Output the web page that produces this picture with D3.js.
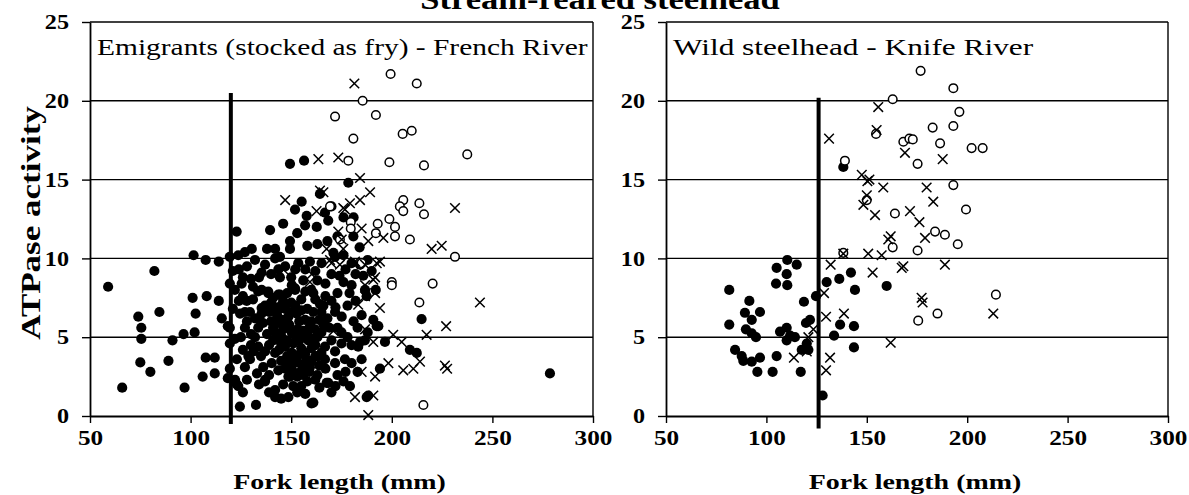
<!DOCTYPE html>
<html>
<head>
<meta charset="utf-8">
<script src="https://cdn.jsdelivr.net/npm/d3@7"></script>
<style>
  html, body { margin: 0; padding: 0; background: #fff; }
  svg { display: block; }
</style>
</head>
<body>
<svg id="chart" width="1189" height="495"></svg>
<script>
// ---------------- DATA ----------------
const chartTitle = "Stream-reared steelhead";
const panelTitles = ["Emigrants (stocked as fry) - French River", "Wild steelhead - Knife River"];
const xLabel = "Fork length (mm)";
const yLabel = "ATPase activity";
const xTicks = [50, 100, 150, 200, 250, 300];
const yTicks = [0, 5, 10, 15, 20, 25];
const cutoffs = [120, 126];           // vertical reference line (mm) per panel
const cutoffSpan = [[-0.5, 20.5], [-0.8, 20.2]];

// Left panel: French River
const leftFilled = [
 [59,8.2],[66,1.8],[74,6.3],[75.5,5.6],[75.5,4.9],[75,3.4],[80,2.8],[82,9.2],[84.5,6.6],[89,3.5],[91,4.8],[96.5,5.2],[97,1.8],
 [101,7.5],[102.5,6.5],[102,5.3],[101.5,10.2],[106,2.5],[107.5,9.9],[108,7.6],[107.5,3.7],[112,3.7],[112,2.7],[114,9.8],[114,7.3],
 [115.5,6.2],[118.5,2.4],[119.5,5.6],[119.5,3.0],[119.5,4.6],[119.5,8.4],[119.5,10.1],[118.5,5.7],
 [122,4.9],[123,2.0],[124.5,0.6],[132.5,0.7],[161,0.85],[125.4,8.4],[122,8.0],[127.9,7.3],[129.5,6.6],[133.6,7.9],[138.6,7.9],
 [135.3,6.85],[133.6,5.6],[129.5,3.6],[137,2.2],[149.4,2.5],[167.6,2.1],[144.4,10.1],[135.3,9.1],[144.4,8.8],[151.9,8.1],[144.4,7.7],
 [149.4,16.0],[156.4,16.2],[178.4,14.8],[164.3,14.1],[155.2,13.6],[151.9,13.1],[157.7,12.7],[156.9,12.1],[162.7,12.0],[166.8,12.9],
 [168.4,12.4],[139.5,11.8],[122.9,11.7],[149.4,11.1],[149.4,10.6],[142,10.6],[130.4,10.6],[123.7,10.2],[127,10.4],[180.9,11.4],
 [142,10.0],[137,9.6],[143.6,9.3],[153.5,9.7],[159.3,9.8],[165.1,9.7],[171.8,10.1],[180,9.7],[184.2,9.6],
 [135.3,8.0],[138.6,7.8],[143.6,7.7],[150.3,8.3],[151.9,8.0],[164.3,7.1],[171.8,6.6],[175.1,6.3],[127,6.6],[124.6,6.5],[135.3,6.5],
 [137,7.0],[143.6,5.9],[142,5.3],[145.3,5.0],[148.6,6.3],[152.7,6.5],[156.9,6.1],[150.3,5.3],[155.2,5.0],[158.5,4.8],[146.9,4.4],
 [150.3,4.0],[151.9,3.6],[142,4.0],[140.3,3.35],[143.6,2.9],[133.6,4.4],[131.2,4.1],[128.7,3.8],[127,3.1],[136.1,3.1],[137,2.3],
 [122.1,2.3],[123.7,1.9],[142,1.65],[142,1.2],[148.6,2.5],[151,1.9],[148.6,1.2],[155.2,2.9],[159.3,3.1],[160.1,0.8],[157.7,3.6],
 [163.4,3.8],[166.8,4.4],[170,4.8],[171.8,4.1],[161.8,5.5],[166.8,3.6],[171.8,3.35],[176.7,3.6],[180,3.35],[168.4,2.1],[179.2,1.9],
 [188.3,1.3],[183.3,4.4],[186.6,4.8],
 [185.8,8.9],[186.7,8.0],[187.5,7.6],[190.8,6.1],[193.3,5.7],[214.8,6.15],[196.6,4.7],[184.2,4.7],[209,4.2],[212.4,4.0],[194.1,3.0],
 [187.5,1.2],[278.6,2.7],[192.5,5.7],[171,10.35],[176,10.2],
 [140,6.0],[146,5.5],[148,4.8],[153,5.5],[155,4.3],[160,6.0],[162,4.5],[145,3.5],[147,3.0],[153,2.5],[158,2.2],[163,2.6],[165,5.3],
 [168,6.2],[170,7.3],[173,7.8],[176,8.5],[178,7.0],[181,6.0],[178,5.0],[175,4.6],[173,5.6],[130,8.7],[128,9.5],[132,9.9],[140,9.0],
 [147,9.5],[150,8.8],[156,8.6],[160,8.0],[163,8.6],[167,8.4],[170,9.0],[125,5.0],[126,4.2],[130,5.2],[138,5.2],[139,4.5],[135,3.8],
 [133,2.7],[144,6.8],[150,7.2],[155,7.4],[158,6.8],[162,7.4],[165,6.6],[140,7.2],[131,7.4],[128,2.3],[126,1.5],[153,1.5],[146,2.0],
 [157,1.4],[164,1.8],[173,2.6],[177,2.8],[183,2.8],[185,3.6],[170,1.5],[175,5.3],[180,8.3],[182,7.3],[188,5.3],[185,6.4],[146,12.2],
 [153,11.6],[158,10.8],[163,10.9],[168,11.1],[173,11.4],[176,12.6],[170,13.3],[181,12.6],[184,10.7],[188,9.9],[190,9.2],[192,8.0],
 [139,2.6],[141,7.5],[143,6.4],[145,4.6],[147,6.8],[149,5.8],[151,4.6],[152,7.0],[154,6.0],[156,5.4],[157,4.0],[159,5.6],[160,3.5],
 [161,6.6],[163,5.0],[164,3.2],[166,5.8],[167,7.6],[148,3.8],[150,3.1],[153,3.4],[156,2.6],[144,5.2],[146,7.3],[141,4.8],[136,5.9],
 [132,6.2],[131,8.2],[126,7.6],[124,9.3],[123,3.6],[127,5.6],[134,2.0],[139,1.5],[145,1.1],[155,1.9],[162,2.3],[167,3.0],[169,5.6],
 [172,6.9],[174,8.9],[177,9.3],[179,7.8],[182,9.0],[183,5.6],[180,4.5],[176,2.2],[172,1.9],
 [142,6.9],[144,4.2],[146,6.1],[148,7.8],[150,6.6],[152,5.1],[154,4.8],[155,6.7],[157,7.9],[158,5.2],[160,4.3],[161,7.8],[162,3.8],
 [164,6.1],[165,4.0],[166,7.0],[147,5.9],[149,3.3],[151,2.8],[154,3.9],[156,3.3],[159,2.8],[161,4.9],[145,7.0],[141,5.6],[139,6.6],
 [137,4.1],[134,6.2],[132,5.0],[130,4.5],[128,6.0],[126,8.8],[124,7.3],[121,6.8],[121,9.2],[134,8.8],[138,10.6],[152,9.3],[157,9.3],
 [162,9.2]
];
const leftCross = [
 [181.4,21.1],[163.5,16.3],[173.4,16.4],[184.2,15.1],[189.2,14.2],[164.3,14.3],[166,14.2],[147,13.7],[162.6,13.0],[175.9,13.2],
 [179.2,13.5],[184.2,13.7],[231.4,13.2],[176.7,13.1],[173.4,11.7],[185,11.9],[188.3,11.1],[195.8,11.3],[167.6,10.6],[175.1,11.2],
 [175.9,10.6],[219.8,10.6],[224.8,10.8],[194.1,9.8],[146.1,9.3],[160.2,9.0],[170,9.7],[181.7,9.8],[186.7,9.6],[190.8,8.65],
 [191.7,7.8],[186.7,7.6],[194.1,6.85],[186.7,5.5],[190.8,4.7],[243.8,7.2],[227,5.7],[217.3,5.15],[200.7,5.15],[204.9,4.7],
 [185,2.8],[191.7,2.5],[198.3,3.35],[205.7,2.9],[210.7,3.0],[214,3.45],[226.4,3.2],[227.5,3.0],[190.8,1.3],[181.7,1.2],[188.3,0.06],
 [158.5,7.8],[159.3,8.5],[183.3,7.06],[174.2,9.6],[192.5,9.7],[191.7,8.8],[186.7,8.3],[171,5.4],[162.3,3.35],[169.3,9.9]
];
const leftOpen = [
 [199.4,21.7],[212.4,21.1],[185.5,20.0],[171.8,19.0],[192.1,19.1],[180.9,17.6],[205.4,17.9],[209.9,18.1],[178.4,16.2],[198.8,16.1],
 [216,15.9],[237.5,16.6],[205.7,13.7],[204,13.3],[205.7,13.0],[213.7,13.5],[216,12.8],[169.3,13.3],[198.8,12.5],[193,12.2],
 [201.6,12.0],[179.6,12.3],[179.6,11.9],[174.2,11.2],[192.1,11.6],[201.6,11.4],[209,11.2],[231.4,10.1],[200,8.5],[200,8.3],
 [220.3,8.4],[213.7,7.2],[215.7,0.7],[185,9.7]
];

// Right panel: Knife River
const rightFilled = [
 [81.5,8.0],[81.5,5.8],[84.4,4.2],[87.7,3.8],[88.5,3.5],[92.7,3.45],[96.8,3.7],[95.5,2.8],[103.1,2.8],[117.1,2.8],[105.1,3.8],
 [91.5,7.3],[89.3,6.55],[92.7,6.1],[96.8,6.6],[89.8,5.5],[92.7,5.25],[94.8,5.0],[105.1,9.4],[110.1,9.0],[110.4,9.9],[115.1,9.6],
 [104.8,8.4],[110.4,8.3],[118.7,7.25],[124.7,7.6],[106.8,5.35],[110.1,5.6],[111.8,5.1],[114.2,5.0],[110.1,4.8],[119.7,5.9],
 [121.7,6.1],[117.6,4.2],[120.9,4.2],[120.1,4.6],[128,1.3],[130,8.5],[136.3,8.7],[142.1,9.1],[144.1,8.0],[159.9,8.25],[136.7,5.8],
 [143.6,5.7],[133.7,5.1],[143.6,4.35],[138.3,15.8]
];
const rightCross = [
 [155.7,19.6],[154.9,18.15],[131.2,17.6],[169,16.7],[187.8,16.3],[147.5,15.3],[150.3,14.9],[151.3,15.0],[158.2,14.5],[179.8,14.5],
 [150,14.0],[148.3,13.4],[183.1,13.6],[154.1,12.75],[171.5,13.0],[176.2,12.3],[161.9,11.4],[160.7,11.2],[179,11.3],[150.7,10.3],
 [157.4,10.2],[188.9,9.6],[167.4,9.4],[168.2,9.5],[177.3,7.5],[132,9.6],[152.9,9.1],[128.7,7.8],[129.7,6.3],[138.6,6.5],[177.8,7.2],
 [161.9,4.65],[131.7,3.7],[129.7,2.9],[113.7,3.7],[120.1,4.1],[123.4,5.5],[120.9,5.0],[213,6.5],[138.3,10.3]
];
const rightOpen = [
 [176.8,21.9],[193.1,20.8],[162.9,20.1],[196.1,19.3],[182.8,18.3],[193.1,18.4],[168.2,17.4],[171.2,17.6],[172.9,17.55],[186.5,17.3],
 [202.2,17.0],[207.7,17.0],[175.3,16.0],[154.6,17.9],[139.1,16.2],[193.1,14.65],[199.4,13.1],[164,12.85],[184,11.7],[188.9,11.5],
 [195.3,10.9],[175.3,10.5],[162.9,10.7],[150,13.7],[138.3,10.35],[175.6,6.05],[185.2,6.5],[214.3,7.7]
];

const panels = [
  {title: panelTitles[0], filled: leftFilled, cross: leftCross, open: leftOpen, cut: cutoffs[0], span: cutoffSpan[0], x0: 90, x1: 593, k: 1.28},
  {title: panelTitles[1], filled: rightFilled, cross: rightCross, open: rightOpen, cut: cutoffs[1], span: cutoffSpan[1], x0: 666, x1: 1168, k: 1.36}
];

// ---------------- DRAW ----------------
const svg = d3.select("#chart");
const serif = "'Liberation Serif','Times New Roman',serif";
const yTop = 22, yBot = 416;

function widen(sel, k) {
  sel.each(function() {
    const w = this.getComputedTextLength();
    d3.select(this).attr("textLength", w * k).attr("lengthAdjust", "spacingAndGlyphs");
  });
}

svg.append("text")
  .attr("x", 600).attr("y", 9)
  .attr("text-anchor", "middle")
  .attr("font-family", serif).attr("font-weight", "bold").attr("font-size", 30)
  .text(chartTitle)
  .call(widen, 1.15);

svg.append("text")
  .attr("transform", `translate(40,${(yTop + yBot) / 2 + 4}) rotate(-90)`)
  .attr("text-anchor", "middle")
  .attr("font-family", serif).attr("font-weight", "bold").attr("font-size", 28)
  .text(yLabel)
  .call(widen, 1.25);

panels.forEach(p => {
  const x = d3.scaleLinear().domain([50, 300]).range([p.x0, p.x1]);
  const y = d3.scaleLinear().domain([0, 25]).range([yBot, yTop]);
  const g = svg.append("g");

  // gridlines
  g.selectAll("line.grid").data(yTicks.filter(t => t > 0)).join("line")
    .attr("x1", x(50)).attr("x2", x(300))
    .attr("y1", d => y(d)).attr("y2", d => y(d))
    .attr("stroke", "#000").attr("stroke-width", 1.4);

  // right border
  g.append("line").attr("x1", x(300)).attr("x2", x(300)).attr("y1", y(25)).attr("y2", y(0))
    .attr("stroke", "#000").attr("stroke-width", 1.4);

  // axes
  const xAxis = d3.axisBottom(x).tickValues(xTicks).tickSize(7).tickSizeOuter(0).tickPadding(7);
  const gx = g.append("g").attr("transform", `translate(0,${yBot})`).call(xAxis);
  gx.select(".domain").attr("stroke-width", 1.8);
  gx.selectAll(".tick line").attr("stroke-width", 1.4);
  gx.selectAll("text").attr("font-family", serif).attr("font-weight", "bold").attr("font-size", 21).attr("fill", "#000")
    .call(widen, 1.2);

  const yAxis = d3.axisLeft(y).tickValues(yTicks).tickSize(8).tickSizeOuter(0).tickPadding(13);
  const gy = g.append("g").attr("transform", `translate(${p.x0},0)`).call(yAxis);
  gy.select(".domain").attr("stroke-width", 1.8);
  gy.selectAll(".tick line").attr("stroke-width", 1.4);
  gy.selectAll("text").attr("font-family", serif).attr("font-weight", "bold").attr("font-size", 21).attr("fill", "#000")
    .call(widen, 1.15);

  // x label
  g.append("text")
    .attr("x", (p.x0 + p.x1) / 2 - 2).attr("y", 489)
    .attr("text-anchor", "middle")
    .attr("font-family", serif).attr("font-weight", "bold").attr("font-size", 21)
    .text(xLabel)
    .call(widen, 1.33);

  // panel title
  g.append("text")
    .attr("x", p.x0 + 7).attr("y", 55)
    .attr("font-family", serif).attr("font-size", 23)
    .text(p.title)
    .call(widen, p.k);

  // cutoff line
  g.append("line")
    .attr("x1", x(p.cut)).attr("x2", x(p.cut))
    .attr("y1", y(p.span[0])).attr("y2", y(p.span[1]))
    .attr("stroke", "#000").attr("stroke-width", 4);

  // filled circles
  g.selectAll("circle.f").data(p.filled).join("circle")
    .attr("cx", d => x(d[0])).attr("cy", d => y(d[1])).attr("r", 5.1)
    .attr("fill", "#000");

  // open circles
  g.selectAll("circle.o").data(p.open).join("circle")
    .attr("cx", d => x(d[0])).attr("cy", d => y(d[1])).attr("r", 4.3)
    .attr("fill", "#fff").attr("stroke", "#000").attr("stroke-width", 1.5);

  // crosses
  const s = 4.8;
  g.selectAll("path.x").data(p.cross).join("path")
    .attr("d", d => {
      const cx = x(d[0]), cy = y(d[1]);
      return `M${cx - s},${cy - s}L${cx + s},${cy + s}M${cx - s},${cy + s}L${cx + s},${cy - s}`;
    })
    .attr("stroke", "#000").attr("stroke-width", 1.5).attr("fill", "none");
});
</script>
</body>
</html>
